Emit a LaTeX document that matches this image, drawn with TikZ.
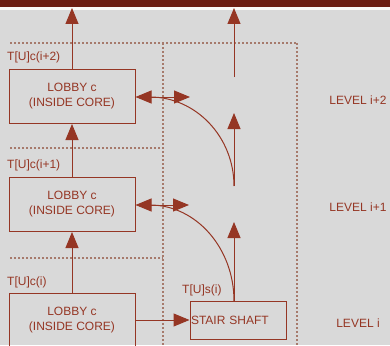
\documentclass[tikz,border=0pt]{standalone}
\usepackage{fontspec}
\setmainfont{Liberation Sans}
\usetikzlibrary{arrows.meta,positioning}
\definecolor{brick}{HTML}{953624}
\definecolor{barred}{HTML}{6B1D14}
\definecolor{photogray}{HTML}{D9D9D9}
\definecolor{dotgray}{HTML}{A67A6C}

\begin{document}
\begin{tikzpicture}[
        x=1pt, y=-1pt,
        font=\fontsize{12}{15}\selectfont,
        lobby/.style={draw=brick, line width=1pt, minimum width=126pt, minimum height=54pt, align=center, text=brick},
        shaft/.style={draw=brick, line width=1pt, minimum width=96pt, minimum height=38pt, text width=94pt, inner xsep=1pt, align=left, text=brick},
        tag/.style={text=brick, inner sep=0pt, anchor=west},
        level/.style={text=brick, inner sep=0pt},
        flow/.style={draw=brick, line width=1pt, -{Triangle[length=16pt,width=13pt]}},
        both/.style={draw=brick, line width=1pt, {Triangle[length=16pt,width=13pt]}-{Triangle[length=16pt,width=13pt]}},
        arcline/.style={draw=brick, line width=1pt},
        floorline/.style={draw=dotgray, line width=1.1pt, dash pattern=on 1.6pt off 2.4pt}
    ]

    % Background and top bar
    \useasboundingbox (0,0) rectangle (390,345);
    \fill[photogray] (0,0) rectangle (390,345);
    \fill[white!85!photogray] (0,7) rectangle (390,10);
    \fill[barred] (0,0) rectangle (390,7);

    % Floor boundaries
    \draw[floorline] (10,43) -- (297,43);
    \draw[floorline] (10,148) -- (163,148);
    \draw[floorline] (10,258) -- (163,258);
    \draw[floorline] (163,43) -- (163,345);
    \draw[floorline] (297,43) -- (297,345);

    % Lobbies inside the core
    \node[lobby] (lobby1) at (72,96.5) {LOBBY c\\(INSIDE CORE)};
    \node[lobby] (lobby2) at (72,204.5) {LOBBY c\\(INSIDE CORE)};
    \node[lobby] (lobby3) at (72,320) {LOBBY c\\(INSIDE CORE)};
    \node[shaft] (stair) at (238,320) {STAIR SHAFT};

    % Labels
    \node[tag] (t2) at (7,57) {T[U]c(i+2)};
    \node[tag] (t1) at (7,165) {T[U]c(i+1)};
    \node[tag] (t0) at (7,282) {T[U]c(i)};
    \node[tag] (ts) at (182,290) {T[U]s(i)};
    \node[level] (lv2) at (358,100) {LEVEL i+2};
    \node[level] (lv1) at (358,207) {LEVEL i+1};
    \node[level] (lv0) at (358,323) {LEVEL i};

    % Stair column
    \coordinate (st0) at (234,301);
    \coordinate (tip0) at (234,222);
    \coordinate (st1) at (234,186);
    \coordinate (tip1) at (234,113);
    \coordinate (st2) at (234,77);
    \coordinate (tip2) at (234,8);
    \coordinate (top) at (72,8);
    \coordinate (r1) at (190,97);
    \coordinate (c1) at (150,97);
    \coordinate (r2) at (189,205);
    \coordinate (c2) at (150,205);

    % Core flow
    \draw[flow] (lobby3) -- (lobby2);
    \draw[flow] (lobby2) -- (lobby1);
    \draw[flow] (lobby1) -- (top);
    \draw[flow] (lobby3.east) -- (lobby3.east -| stair.west);

    % Stair flow
    \draw[flow] (st0) -- (tip0);
    \draw[flow] (st1) -- (tip1);
    \draw[flow] (st2) -- (tip2);
    \draw[both] (lobby1.east |- r1) -- (r1);
    \draw[both] (lobby2.east |- r2) -- (r2);
    \draw[arcline] (st1) .. controls +(0,-49) and +(46,0) .. (c1);
    \draw[arcline] (st0) .. controls +(0,-53) and +(46,0) .. (c2);

\end{tikzpicture}
\end{document}
